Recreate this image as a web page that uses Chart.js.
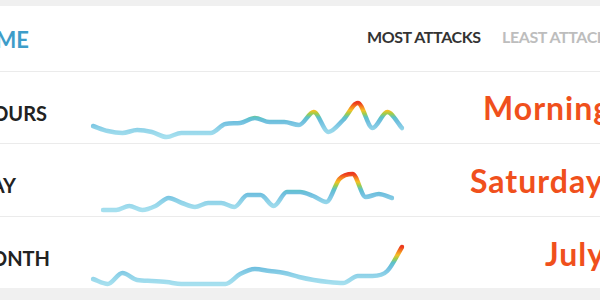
<!DOCTYPE html>
<html>
<head>
<meta charset="utf-8">
<script src="https://cdn.jsdelivr.net/npm/chart.js@4/dist/chart.umd.min.js"></script>
<style>
  html, body { margin: 0; padding: 0; }
  body { width: 600px; height: 300px; background: #f0f0f0; position: relative; overflow: hidden;
         font-family: "Source Sans Pro", Lato, "Open Sans", sans-serif; }
  .card { position: absolute; left: 0; top: 6px; width: 600px; height: 282px; background: #fff; }
  .sep { position: absolute; left: 0; width: 600px; height: 1px; background: #ebebeb; }
  .txt { position: absolute; white-space: nowrap; line-height: 1; font-weight: 700; }
  .title { right: 571px; top: 29px; font-size: 22px; color: #3d9dc9; text-align: right; }
  .tab { top: 29px; font-size: 16px; letter-spacing: -0.4px; }
  .label { font-size: 20px; color: #222; text-align: right; }
  .big { font-size: 32px; color: #f0501c; letter-spacing: 1px; }
  .spark { position: absolute; height: 72px; }
</style>
</head>
<body>
<div class="card"></div>
<div class="sep" style="top:71px"></div>
<div class="sep" style="top:143px"></div>
<div class="sep" style="top:216px"></div>

<div class="txt title">TIME</div>
<div class="txt tab" style="left:367px;color:#333;">MOST ATTACKS</div>
<div class="txt tab" style="left:502px;color:#bdbdbd;">LEAST ATTACKS</div>

<div class="txt label" style="right:553px;top:103px;">HOURS</div>
<div class="txt label" style="right:584px;top:175px;">DAY</div>
<div class="txt label" style="right:550px;top:248px;">MONTH</div>

<div class="txt big" style="left:483px;top:92px;">Morning</div>
<div class="txt big" style="left:470px;top:165px;">Saturday</div>
<div class="txt big" style="left:545px;top:238px;">July</div>

<div class="spark" style="left:89px;top:72px;width:317px;"><canvas id="hoursChart"></canvas></div>
<div class="spark" style="left:99px;top:144px;width:297px;"><canvas id="dayChart"></canvas></div>
<div class="spark" style="left:89px;top:216px;width:317px;"><canvas id="monthChart"></canvas></div>

<script>
// sparkline values (relative attack counts)
const hourLabels = ['1','2','3','4','5','6','7','8','9','10','11','12','13','14','15','16','17','18','19','20','21','22'];
const hourValues = [18, 13, 11, 14, 12, 7, 11, 11, 11, 20, 21, 26, 22, 22, 19, 32, 12, 24, 41, 16, 32, 16];

const dayLabels = ['1','2','3','4','5','6','7','8','9','10','11','12','13','14','15','16','17','18','19','20','21','22','23'];
const dayValues = [6, 6, 10, 6, 10, 18, 13, 9, 13, 13, 9, 21, 21, 10, 24, 24, 20, 14, 37, 42, 19, 22, 18];

const monthLabels = ['1','2','3','4','5','6','7','8','9','10','11','12','13','14','15','16','17','18','19','20','21','22'];
const monthValues = [9, 4, 15, 8, 7, 6, 4, 4, 4, 4, 14, 19, 17, 15, 11, 8, 6, 5, 12, 12, 17, 41];

// colour stops, top (max value) to bottom (min value)
const heatStops = [
  [0.00, '#ec3a1e'],
  [0.10, '#f47a1f'],
  [0.22, '#f5c025'],
  [0.32, '#9cce4c'],
  [0.42, '#5cc2c8'],
  [0.55, '#70bfdf'],
  [0.78, '#92d4e9'],
  [1.00, '#a6e0ef']
];

function heatGradient(context) {
  const chart = context.chart;
  const area = chart.chartArea;
  if (!area) return '#9fdbec';
  const data = chart.data.datasets[0].data;
  const y = chart.scales.y;
  const top = y.getPixelForValue(Math.max(...data));
  const bottom = y.getPixelForValue(Math.min(...data));
  const g = chart.ctx.createLinearGradient(0, top, 0, bottom);
  heatStops.forEach(s => g.addColorStop(s[0], s[1]));
  return g;
}

function sparkline(id, labels, values) {
  return new Chart(document.getElementById(id), {
    type: 'line',
    data: {
      labels,
      datasets: [{
        data: values,
        borderColor: heatGradient,
        borderWidth: 4.5,
        borderCapStyle: 'round',
        borderJoinStyle: 'round',
        cubicInterpolationMode: 'monotone',
        pointRadius: 0,
        fill: false
      }]
    },
    options: {
      responsive: true,
      maintainAspectRatio: false,
      animation: false,
      layout: { padding: { left: 4, right: 4, top: 0, bottom: 0 } },
      scales: {
        x: { display: false, offset: false },
        y: { display: false, min: 0, max: 72 }
      },
      plugins: { legend: { display: false }, tooltip: { enabled: false } }
    }
  });
}

sparkline('hoursChart', hourLabels, hourValues);
sparkline('dayChart', dayLabels, dayValues);
sparkline('monthChart', monthLabels, monthValues);
</script>
</body>
</html>
